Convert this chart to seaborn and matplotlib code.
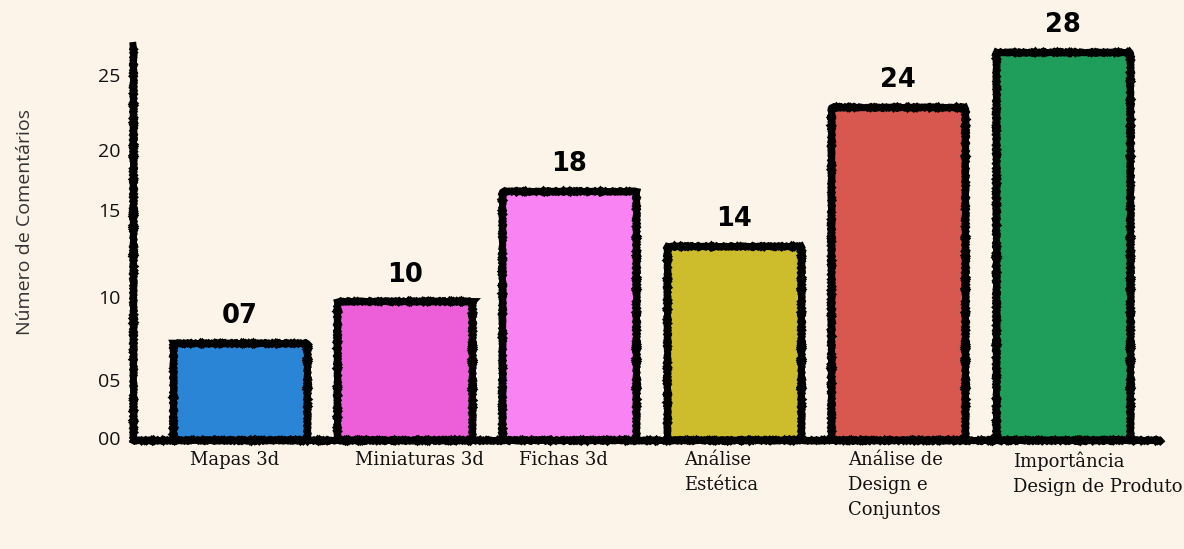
import matplotlib
matplotlib.use("Agg")
import matplotlib.pyplot as plt
from matplotlib.transforms import ScaledTranslation
import seaborn as sns
import pandas as pd

categories = ["Mapas 3d", "Miniaturas 3d", "Fichas 3d", "Análise\nEstética",
              "Análise de\nDesign e\nConjuntos", "Importância\nDesign de Produto"]
values = [7, 10, 18, 14, 24, 28]
colors = ["#2B85D6", "#EC5FD9", "#F983F2", "#CDBD2C", "#D8574F", "#1F9E5B"]
ytick_pos = [0.15, 4.3, 10.3, 16.6, 20.9, 26.3]
ytick_labels = ["00", "05", "10", "15", "20", "25"]

BG = "#FCF4E8"
sns.set_theme(style="white")
plt.rcParams["font.family"] = ["DejaVu Sans"]

fig = plt.figure(figsize=(11.84, 5.49), dpi=100, facecolor=BG)
ax = fig.add_axes([133/1184, 1-440/549, (1160-133)/1184, (440-45)/549])
ax.set_facecolor(BG)

df = pd.DataFrame({"cat": categories, "val": values})
sns.barplot(data=df, x="cat", y="val", hue="cat", palette=colors, legend=False,
            width=0.815, edgecolor="black", linewidth=5, ax=ax, saturation=1)

SK = dict(scale=0.6, length=3, randomness=2)
for p in ax.patches:
    p.set_sketch_params(**SK)

ax.set_xlim(-0.65, 5.59)
ax.set_ylim(0, 28.5)

for s in ["top", "right"]:
    ax.spines[s].set_visible(False)
for s in ["left", "bottom"]:
    ax.spines[s].set_color("black")
    ax.spines[s].set_linewidth(5)
    ax.spines[s].set_sketch_params(**SK)
    ax.spines[s].set_zorder(5)

# value labels
for i, v in enumerate(values):
    ax.annotate(f"{v:02d}", xy=(i, v), xytext=(0, 10), textcoords="offset points",
                ha="center", va="bottom", fontsize=18.5, fontweight="heavy",
                color="black", annotation_clip=False)

ax.set_xlabel("")
ax.set_ylabel("")
ax.set_yticks(ytick_pos)
ax.set_yticklabels(ytick_labels, fontsize=14, color="#111111",
                   family=["Open Sans", "DejaVu Sans"])
ax.tick_params(axis="y", length=0, pad=9)
ax.tick_params(axis="x", length=0, pad=8)
ax.set_xticks(range(len(categories)))
ax.set_xticklabels(categories, fontsize=13, color="#111111",
                   family=["DejaVu Serif"], linespacing=1.5)
off = ScaledTranslation(-0.5, 0, fig.dpi_scale_trans)
for lab in ax.get_xticklabels():
    lab.set_horizontalalignment("left")
    lab.set_multialignment("left")
    lab.set_transform(lab.get_transform() + off)

fig.text(25/1184, 1-222/549, "Número de Comentários", rotation=90,
         ha="center", va="center", fontsize=14, color="#333333",
         family=["Open Sans", "DejaVu Sans"])

fig.savefig("out.png", dpi=100, facecolor=BG)
